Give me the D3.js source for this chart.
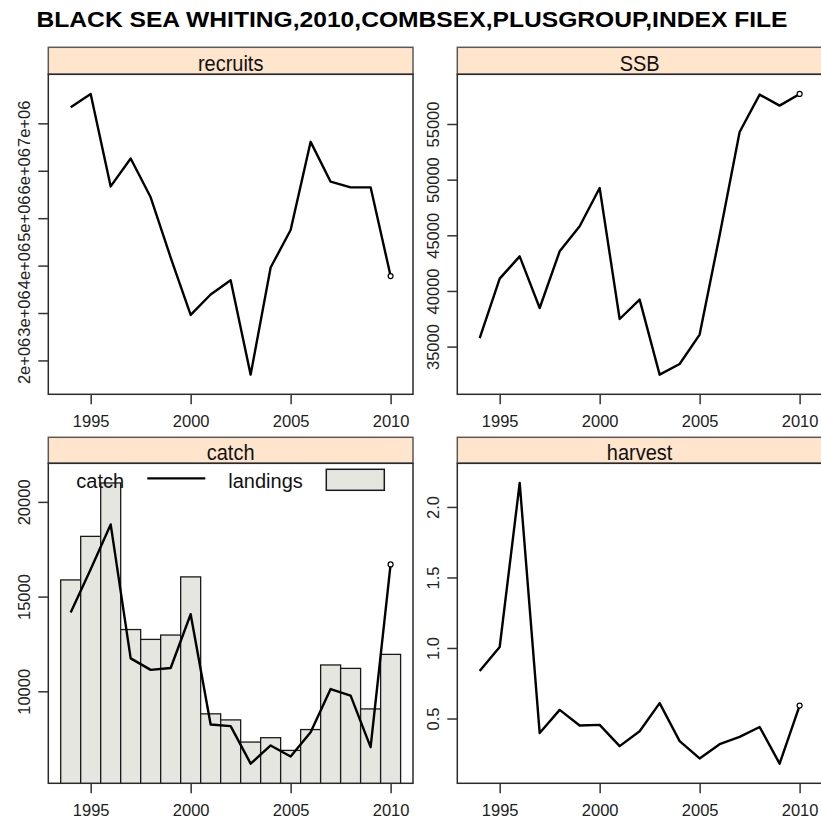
<!DOCTYPE html>
<html><head><meta charset="utf-8">
<script src="https://cdn.jsdelivr.net/npm/d3@7/dist/d3.min.js"></script>
<style>body{margin:0;background:#fff} text{font-family:"Liberation Sans",Arial,sans-serif}</style>
</head><body><svg id="c" width="821" height="821"></svg>
<script>
const title = "BLACK SEA WHITING,2010,COMBSEX,PLUSGROUP,INDEX FILE";
const years = [1994,1995,1996,1997,1998,1999,2000,2001,2002,2003,2004,2005,2006,2007,2008,2009,2010];
const recruits = [7.34e6,7.62e6,5.67e6,6.26e6,5.44e6,4.17e6,2.96e6,3.39e6,3.69e6,1.70e6,3.96e6,4.75e6,6.61e6,5.77e6,5.65e6,5.65e6,3.78e6];
const ssb = [35770,41110,43110,38470,43560,45810,49250,37480,39220,32480,33440,36080,45000,54280,57640,56650,57700];
const catchVals = [14160,16440,18810,11740,11130,11230,14070,8250,8160,6180,7140,6560,7840,10120,9770,7050,16700];
const landings = [15880,18180,21000,13260,12740,12970,16040,8810,8490,7320,7550,6880,7980,11390,11210,9070,11950];
const harvest = [0.837,1.007,2.17,0.397,0.561,0.45,0.455,0.304,0.41,0.609,0.34,0.217,0.318,0.37,0.44,0.18,0.592];
const xTicks = [1995,2000,2005,2010];
const xTickLabels = ["1995","2000","2005","2010"];
const recruitsTicks = [2e6,3e6,4e6,5e6,6e6,7e6];
const recruitsTickLabels = ["2e+06","3e+06","4e+06","5e+06","6e+06","7e+06"];
const ssbTicks = [35000,40000,45000,50000,55000];
const ssbTickLabels = ["35000","40000","45000","50000","55000"];
const catchTicks = [10000,15000,20000];
const catchTickLabels = ["10000","15000","20000"];
const harvestTicks = [0.5,1.0,1.5,2.0];
const harvestTickLabels = ["0.5","1.0","1.5","2.0"];
const legendLabels = ["catch","landings"];

const svg = d3.select("#c");
svg.append("rect").attr("width",821).attr("height",821).attr("fill","#fff");
svg.append("text").attr("x",412).attr("y",27.3).attr("text-anchor","middle")
  .attr("font-weight","bold").attr("font-size",22).attr("fill","#000")
  .attr("textLength",751).attr("lengthAdjust","spacingAndGlyphs").text(title);

function padExt(ext){const s=ext[1]-ext[0];return [ext[0]-0.07*s, ext[1]+0.07*s];}

const colLeft = [48.3, 457.3];
const panelW = 364.7;
const rows = [{stripTop:47.3, top:74.3, bottom:394.3},{stripTop:437.3, top:463.3, bottom:783.3}];

const panels = [
  {name:"recruits", col:0, row:0, series:recruits, ticks:recruitsTicks, labels:recruitsTickLabels},
  {name:"SSB", col:1, row:0, series:ssb, ticks:ssbTicks, labels:ssbTickLabels},
  {name:"catch", col:0, row:1, series:catchVals, bars:landings, ticks:catchTicks, labels:catchTickLabels},
  {name:"harvest", col:1, row:1, series:harvest, ticks:harvestTicks, labels:harvestTickLabels}
];

const xDom = padExt(d3.extent(years));

panels.forEach((p,i)=>{
  const L = colLeft[p.col], R = L+panelW, r = rows[p.row];
  const x = d3.scaleLinear().domain(xDom).range([L,R]);
  const allVals = p.bars ? p.series.concat(p.bars) : p.series;
  const y = d3.scaleLinear().domain(padExt(d3.extent(allVals))).range([r.bottom, r.top]);
  const g = svg.append("g");
  const clipId = "clip"+i;
  svg.append("clipPath").attr("id",clipId).append("rect")
    .attr("x",L).attr("y",r.top).attr("width",panelW).attr("height",r.bottom-r.top);

  // strip
  g.append("rect").attr("x",L).attr("y",r.stripTop).attr("width",panelW).attr("height",r.top-r.stripTop)
    .attr("fill","#ffe5cc").attr("stroke","#5a5a5a").attr("stroke-width",1.5);
  g.append("text").attr("x",(L+R)/2).attr("y",r.top-3).attr("text-anchor","middle")
    .attr("font-size",20).attr("fill","#111")
    .attr("transform",`translate(0,${r.top-3}) scale(1,1.12) translate(0,${-(r.top-3)})`)
    .text(p.name);

  const inner = g.append("g").attr("clip-path",`url(#${clipId})`);
  if(p.bars){
    inner.selectAll("rect.bar").data(years).join("rect").attr("class","bar")
      .attr("x",d=>x(d-0.5)).attr("width",d=>x(d+0.5)-x(d-0.5))
      .attr("y",(d,j)=>y(p.bars[j])).attr("height",(d,j)=>r.bottom-y(p.bars[j])+2)
      .attr("fill","#e6e6e0").attr("stroke","#1a1a1a").attr("stroke-width",1.3);
  }
  const line = d3.line().x((d,j)=>x(years[j])).y(d=>y(d));
  inner.append("path").datum(p.series).attr("d",line).attr("fill","none")
    .attr("stroke","#000").attr("stroke-width",2.4).attr("stroke-linejoin","round");
  inner.append("circle").attr("cx",x(years[years.length-1])).attr("cy",y(p.series[p.series.length-1]))
    .attr("r",2.5).attr("fill","#fff").attr("stroke","#000").attr("stroke-width",1.2);

  // border
  g.append("rect").attr("x",L).attr("y",r.top).attr("width",panelW).attr("height",r.bottom-r.top)
    .attr("fill","none").attr("stroke","#2a2a2a").attr("stroke-width",1.5);

  // x axis
  const xa = g.append("g").attr("transform",`translate(0,${r.bottom})`)
    .call(d3.axisBottom(x).tickValues(xTicks).tickSize(10).tickFormat((d,j)=>xTickLabels[j]));
  xa.select(".domain").remove();
  xa.selectAll("line").attr("stroke","#333").attr("stroke-width",1.5);
  xa.selectAll("text").attr("y",33).attr("dy",0).attr("font-size",16.5).attr("fill","#222")
    .attr("font-family",'"Liberation Sans",Arial,sans-serif');

  // y axis
  const ya = g.append("g").attr("transform",`translate(${L},0)`)
    .call(d3.axisLeft(y).tickValues(p.ticks).tickSize(10).tickFormat((d,j)=>p.labels[j]));
  ya.select(".domain").remove();
  ya.selectAll("line").attr("stroke","#333").attr("stroke-width",1.5);
  ya.selectAll("text").attr("x",0).attr("dy",0).attr("text-anchor","middle")
    .attr("transform","translate(-18,0) rotate(-90)")
    .attr("font-size",16.5).attr("fill","#222")
    .attr("font-family",'"Liberation Sans",Arial,sans-serif');

  if(p.bars){
    const lg = g.append("g");
    lg.append("text").attr("x",L+28).attr("y",r.top+25).attr("font-size",20).attr("fill","#111").text(legendLabels[0]);
    lg.append("line").attr("x1",L+99).attr("x2",L+157).attr("y1",r.top+15).attr("y2",r.top+15)
      .attr("stroke","#000").attr("stroke-width",2.3);
    lg.append("text").attr("x",L+180).attr("y",r.top+25).attr("font-size",20).attr("fill","#111").text(legendLabels[1]);
    lg.append("rect").attr("x",L+278).attr("y",r.top+6).attr("width",58).attr("height",21)
      .attr("fill","#e6e6e0").attr("stroke","#1a1a1a").attr("stroke-width",1.5);
  }
});
</script></body></html>
